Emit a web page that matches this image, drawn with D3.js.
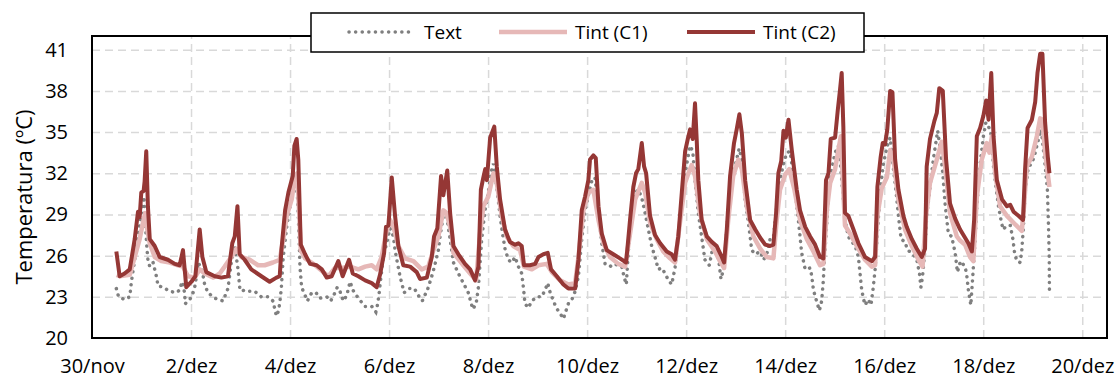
<!DOCTYPE html>
<html>
<head>
<meta charset="utf-8">
<script src="https://cdn.jsdelivr.net/npm/d3@7"></script>
<style>
  body { margin: 0; background: #fff; }
  svg { display: block; font-family: "Open Sans", sans-serif; }
</style>
</head>
<body>
<div id="chart"></div>
<script>
// x values are hours counted from 30/nov 00:00
const xTickHours = [0, 48, 96, 144, 192, 240, 288, 336, 384, 432, 480];
const xTickLabels = ["30/nov", "2/dez", "4/dez", "6/dez", "8/dez", "10/dez",
                     "12/dez", "14/dez", "16/dez", "18/dez", "20/dez"];
const yTicks = [20, 23, 26, 29, 32, 35, 38, 41];

const seriesNames = ["Text", "Tint (C1)", "Tint (C2)"];

// Text (outdoor)
const textSeries = [
  [11.8,23.6],[12.9,23.0],[15.8,22.8],[18.3,23.0],[19.1,24.1],[20.7,25.7],[22.3,27.4],[23.9,29.1],
  [25.2,30.3],[25.8,28.4],[26.7,26.4],[27.1,25.7],[28,25.2],[29.6,25.5],[31.2,24.5],[32,23.8],
  [34.4,23.7],[37.7,23.4],[40.9,23.3],[42.5,23.5],[43.6,24.1],[44.9,23.3],[45.2,22.5],[47.4,22.8],
  [49,23.3],[50.1,23.9],[51.4,25.5],[53.3,25.0],[54.6,23.9],[56.2,23.3],[59.5,22.9],[63.5,22.7],
  [65.9,23.6],[67.5,25.5],[69.2,26.7],[70.8,25.0],[71.6,23.7],[72.4,23.4],[74,23.5],[76.4,23.4],
  [78.9,23.4],[82.1,23.0],[85.3,23.0],[87.7,22.7],[89.4,21.6],[90.2,21.9],[91,22.5],[91.8,23.7],
  [92.7,25.9],[94.4,28.1],[96,29.6],[98.4,32.0],[99.7,30.1],[100.4,27.2],[100.8,25.2],[101.6,23.7],
  [103.3,23.1],[104.4,22.7],[106.5,23.3],[108.6,23.3],[110.5,22.9],[113.8,23.0],[115.7,22.7],[117.8,23.3],
  [118.9,23.7],[120.2,23.4],[121.8,22.7],[123.5,23.1],[125.1,24.1],[126.4,23.5],[129.1,22.9],[132.4,22.3],
  [135.6,22.3],[137.6,21.9],[138.5,22.5],[139.3,23.4],[140.1,24.5],[141.2,25.9],[142.8,26.9],[144.5,28.0],
  [146.1,27.4],[146.9,26.4],[148,25.5],[149.3,24.5],[151.3,23.3],[153.8,23.6],[156.3,23.6],[158.2,23.1],
  [160.1,22.7],[162.8,23.6],[164.7,24.5],[166,25.2],[167.9,26.4],[168.7,27.4],[170.3,28.9],[171.9,28.9],
  [173.6,27.2],[175.2,25.5],[177.6,24.7],[180,24.0],[182.4,23.3],[184.6,22.1],[186.2,22.5],[187.3,23.7],
  [188.9,27.2],[190.5,29.3],[192.1,30.6],[193.3,32.0],[194.6,32.7],[196.2,31.0],[197.8,28.9],[199.1,27.5],
  [200.2,26.5],[201.8,25.7],[203.5,25.5],[205.1,25.9],[206.7,25.2],[208.3,24.7],[209.1,23.7],[209.9,22.5],
  [211.5,22.2],[213.2,22.7],[215.6,23.0],[218,23.0],[219.6,23.5],[220.9,24.0],[222.1,23.3],[223.7,22.7],
  [225,22.2],[226.9,21.8],[228.5,21.4],[229.8,22.0],[230.9,22.5],[232.6,22.8],[234.2,23.4],[235.8,24.5],
  [237.4,27.2],[239,29.3],[240.6,30.4],[242.2,31.4],[243.8,31.7],[245.5,29.3],[247.1,26.9],[248.7,25.4],
  [251.1,25.2],[252.7,25.4],[255.1,25.3],[256.8,25.2],[258,24.4],[259,23.9],[260,26.4],[261.7,29.1],
  [263.3,30.6],[264.9,30.8],[266.5,30.2],[268.1,29.1],[269.7,27.9],[271.3,26.7],[272.9,25.9],[274.5,25.0],
  [276.2,25.1],[277.8,24.7],[279.4,24.2],[281,23.9],[282.6,25.1],[284.2,27.4],[285.9,30.1],[287.5,32.0],
  [288.8,33.1],[289.9,34.0],[291.2,33.6],[292.3,31.5],[293.9,29.1],[295.5,27.4],[297.1,25.7],[299.2,25.3],
  [301.1,26.7],[302.8,26.4],[304,25.4],[304.9,24.3],[306.4,25.2],[307.7,27.9],[309.3,30.8],[311.7,32.5],
  [313.7,33.8],[315,33.0],[316.6,30.1],[318.2,28.4],[319.8,26.4],[321.5,26.1],[323.9,26.3],[325.5,25.7],
  [327.1,26.1],[328.7,27.2],[330.3,27.3],[331.9,29.6],[333.5,31.5],[335.2,32.7],[336.8,33.5],[338.4,33.6],
  [340,31.8],[340.8,30.8],[342.4,28.6],[343.2,27.4],[344,26.2],[345.7,25.0],[348.1,25.1],[348.9,24.5],
  [349.7,23.5],[351,22.8],[352.6,22.0],[353.7,22.7],[354.5,24.2],[355,25.7],[356.2,28.4],[357,30.6],
  [358.6,32.3],[360.2,33.5],[361.8,34.0],[362.6,33.0],[363.9,30.6],[365,28.6],[366.6,27.4],[368.2,27.0],
  [369.8,26.8],[371.5,25.9],[372.3,24.7],[373.1,23.5],[373.9,22.9],[374.7,22.4],[376.3,22.8],[377.6,22.4],
  [378.7,23.7],[379.6,25.0],[380.7,27.6],[382,30.6],[383.6,32.7],[385.5,34.0],[386.9,34.6],[388.5,32.3],
  [389.8,30.6],[390.9,28.9],[392.2,27.2],[394.1,27.0],[395.3,26.4],[397.4,26.2],[399.8,25.7],[401.1,24.7],
  [401.8,23.7],[402.6,24.5],[403.6,26.2],[404.6,28.9],[406.2,31.0],[407.8,33.0],[409,34.2],[409.9,35.1],
  [411,34.0],[412.4,32.0],[413.5,29.8],[415.1,27.6],[416.7,27.4],[418.4,26.2],[419.5,24.8],[421,25.6],
  [423.2,25.2],[424,24.6],[424.8,23.5],[426,22.4],[426.8,24.2],[427.7,26.2],[428.9,29.6],[430.5,32.7],
  [432.1,34.7],[433.3,35.7],[434.6,35.4],[435.7,34.9],[437,32.5],[438.2,31.0],[439.4,29.6],[440.6,28.6],
  [441.6,27.9],[443.5,28.2],[445.1,28.2],[446.4,27.2],[447.2,26.2],[448.3,25.6],[449.9,25.5],[450.7,26.4],
  [451.5,28.1],[452.3,30.6],[453.9,32.5],[455.6,32.7],[457.2,33.5],[458.8,34.5],[460.1,35.2],[461.2,33.7],
  [462.4,32.0],[463.1,30.8],[463.6,28.4],[464,25.9],[464.1,23.4]
];

// Tint (C1)
const tintC1 = [
  [12,24.6],[13.4,24.5],[18.3,24.6],[20.7,25.9],[23.1,27.2],[24.7,28.4],[25.8,29.1],[26.8,27.9],
  [28,26.9],[30.4,25.9],[33.6,25.6],[37.7,25.5],[41.7,25.3],[44.1,25.2],[46.5,24.5],[49.8,24.4],
  [52.2,25.0],[54.6,24.7],[58.7,24.4],[61.9,24.7],[64.3,25.2],[67.5,25.9],[70,26.5],[72.4,25.9],
  [76.4,25.7],[80.5,25.3],[83.7,25.3],[87.7,25.5],[91,25.7],[92.5,27.0],[94.4,28.9],[96.8,30.1],
  [98.4,31.8],[99.5,32.0],[100.3,29.5],[101.2,26.4],[103.3,25.8],[107.3,25.4],[112.1,24.8],[114.6,24.5],
  [117.8,25.1],[121,25.1],[125.1,25.2],[129.1,25.0],[132.4,25.2],[135.6,25.3],[138,25.0],[140.4,25.9],
  [142.5,27.6],[144.5,28.6],[146.1,28.1],[148.5,26.7],[151.7,25.8],[155.8,25.6],[159.8,25.0],[163,25.2],
  [165.5,26.4],[167.9,27.4],[170.3,29.3],[171.9,29.1],[174.4,27.6],[175.2,26.2],[180,25.3],[183.3,24.7],
  [186.2,24.2],[188.1,27.6],[189.7,29.6],[192.1,30.3],[194.6,32.0],[196.2,31.3],[198.6,28.9],[201,27.4],
  [204.2,26.7],[207.5,26.4],[209.4,25.2],[213.2,25.0],[216.4,25.3],[220.4,25.4],[222.9,24.8],[226.9,24.2],
  [230.9,23.9],[234.2,24.0],[235.8,25.9],[238.2,29.3],[240.6,30.6],[243,30.8],[245.5,28.6],[247.9,26.9],
  [251.1,25.9],[255.1,25.4],[258.4,25.2],[260.8,27.6],[263.3,30.1],[266.5,31.3],[268.1,30.6],[270.5,28.4],
  [273.7,27.2],[276.9,26.3],[280.2,25.8],[282.6,25.5],[285,28.4],[287.5,31.3],[289.1,32.0],[290.7,32.6],
  [292.3,31.8],[294.7,29.1],[298,27.2],[302,26.3],[304.4,25.6],[306.4,25.1],[308.4,28.6],[310.8,31.8],
  [313.3,33.0],[315,32.3],[317.4,29.6],[320.6,27.4],[323.9,26.5],[327.1,25.9],[330.3,25.8],[331.9,28.6],
  [333.5,30.8],[336,31.9],[338,32.3],[340.5,30.8],[343.2,28.6],[346.5,27.2],[349.7,26.3],[352.9,25.3],
  [354.5,25.4],[356.2,29.3],[357.8,31.3],[360.2,32.3],[361.8,33.7],[363,34.7],[364.2,30.6],[365,28.2],
  [367.5,27.6],[370.7,26.7],[374.7,25.7],[378,25.2],[379.6,25.3],[380.7,28.9],[382.8,30.9],[385.3,31.7],
  [386.9,33.7],[388.5,33.0],[390.9,30.1],[394.1,27.9],[397.4,26.7],[400.6,25.7],[402.6,25.2],[404.3,28.9],
  [406.2,31.3],[409.5,33.0],[411.9,34.3],[413.5,32.5],[415.9,29.1],[419.2,27.4],[420.8,27.1],[423.2,26.8],
  [425.6,25.9],[427.2,25.6],[428.9,30.3],[431.3,33.0],[433.7,34.2],[435,33.5],[436.2,34.7],[437.8,32.0],
  [440.2,29.6],[443.5,28.9],[446.7,28.4],[450.7,27.8],[451.8,29.6],[453.1,32.5],[455.6,33.2],[458,34.7],
  [459.6,36.0],[460.7,35.9],[462,33.5],[464.1,31.0]
];

// Tint (C2)
const tintC2 = [
  [11.8,26.3],[13.4,24.5],[15.8,24.7],[18.3,25.0],[20.7,27.2],[22.3,29.2],[23.1,28.8],[23.9,30.6],
  [25,30.7],[25.5,31.4],[26.3,33.6],[27.1,29.6],[28,27.2],[30.4,26.7],[32.8,25.9],[36.8,25.7],
  [40.1,25.4],[42.5,25.3],[44.1,26.4],[45.7,23.7],[48.2,24.1],[50.1,24.5],[52.2,27.9],[53.5,25.9],
  [55.4,24.8],[59.5,24.5],[62.7,24.4],[65.9,24.5],[68,26.9],[69.2,27.4],[70.5,29.6],[71.6,26.1],
  [74,25.7],[77.2,25.0],[82.1,24.5],[86.1,24.1],[89.4,24.4],[91,24.5],[91.8,26.4],[93.6,29.3],
  [95.2,30.6],[97.3,31.8],[98.1,34.0],[99.2,34.5],[100,33.0],[101.2,26.8],[103.3,26.1],[105.7,25.4],
  [108.9,25.3],[111.4,25.0],[113.8,24.4],[116.2,24.5],[119.4,25.6],[121.5,24.5],[124.6,25.7],[126.4,24.7],
  [129.1,24.5],[132.4,24.2],[135.6,24.0],[138,23.7],[139.6,24.6],[141.6,26.2],[142.5,28.1],[143.7,28.2],
  [145.3,31.7],[146.9,28.9],[148.5,26.7],[150.9,25.3],[154.2,25.2],[157.4,24.8],[159,24.3],[162.3,24.4],
  [164.7,25.9],[165.8,27.4],[167.4,28.0],[169.2,31.8],[170.3,30.4],[172.2,32.2],[173.6,29.1],[175.2,26.7],
  [177.6,26.1],[180.8,25.4],[183.3,25.0],[185.7,24.2],[187.3,25.2],[188.5,30.8],[189.7,31.7],[190.6,32.3],
  [191.4,31.5],[193,34.6],[195,35.4],[196.2,32.5],[197.8,30.1],[200.2,27.9],[202.6,27.0],[205.1,26.8],
  [206.7,26.9],[208.3,26.7],[209.4,25.3],[212.3,25.3],[214.8,25.4],[216.4,25.9],[218.8,26.1],[220.9,26.2],
  [222.5,25.0],[225.3,24.5],[228.5,23.9],[230.9,23.6],[234.2,23.6],[235.8,25.7],[237.4,29.3],[239,30.3],
  [240.6,31.5],[241.4,33.0],[243,33.3],[244.2,33.1],[245.5,29.6],[247.1,27.6],[249.5,26.4],[252.7,26.1],
  [255.9,25.8],[258.9,25.5],[260.8,28.6],[262.4,31.0],[263.7,32.0],[264.8,32.3],[266.5,34.2],[267.6,32.5],
  [268.6,32.0],[270.5,28.9],[272.9,27.5],[275.4,26.9],[278.6,26.3],[281,26.1],[282.6,25.7],[284.2,27.4],
  [285.9,30.6],[287.5,33.6],[288.8,34.5],[289.9,35.2],[291.2,34.5],[292.3,37.1],[293.1,34.5],[293.9,31.5],
  [295.5,28.6],[298,27.4],[300.4,27.0],[302.8,26.7],[305.3,25.9],[306.4,25.5],[307.7,27.9],[309.3,31.8],
  [311.2,34.2],[312.5,35.2],[313.8,36.3],[315,34.9],[316.6,31.5],[319,28.6],[321.5,27.9],[323.9,27.3],
  [326.3,26.8],[328.7,26.7],[330.3,26.8],[331.6,29.1],[332.7,32.0],[334.1,32.9],[335.2,35.1],[336.3,34.6],
  [337.6,35.9],[339.2,33.7],[341.6,30.8],[343.2,29.3],[345.7,28.1],[348.1,27.4],[350.5,26.8],[352.9,25.9],
  [354.5,25.8],[355.8,31.5],[357,32.0],[358.1,34.5],[360.2,34.6],[361.5,36.6],[362.6,38.1],[363.4,39.3],
  [364.2,35.4],[365,29.1],[366.6,28.9],[369.1,27.9],[371.5,26.9],[374.7,25.9],[378,25.6],[379.6,25.9],
  [380.7,31.0],[382.3,33.2],[383.3,34.2],[384.4,34.1],[385.5,35.2],[386.9,38.0],[388,37.9],[389.3,33.0],
  [390.9,30.8],[393.3,28.9],[394.9,28.1],[397.4,27.2],[399.8,26.5],[402.2,25.9],[403.8,26.5],[404.6,32.5],
  [406.2,34.5],[408.3,35.8],[409.5,36.4],[410.7,38.2],[412.4,38.0],[414,33.0],[415.9,29.8],[418.4,28.7],
  [420.8,27.9],[423.2,27.3],[424.8,26.9],[426.5,26.3],[427.6,28.6],[428.9,34.7],[430.5,35.3],[432.1,36.2],
  [433.4,37.3],[434.6,35.9],[435.9,39.3],[437,34.7],[438.6,31.5],[441.1,30.1],[443.5,29.6],[445.1,29.7],
  [446.7,29.2],[449.1,28.9],[451.3,28.6],[452.3,32.3],[453.5,35.3],[455.6,35.9],[457.2,37.2],[458.3,39.3],
  [459.6,40.7],[460.7,40.7],[462,35.7],[463.3,33.2],[464.1,32.0]
];

const W = 1118, H = 379;
const margin = {left: 92, right: 11, top: 36, bottom: 41};
const innerW = W - margin.left - margin.right;
const innerH = H - margin.top - margin.bottom;

const colText = "#7f7f7f", colC1 = "#e6b8b7", colC2 = "#953735";

const svg = d3.select("#chart").append("svg")
  .attr("width", W)
  .attr("height", H);

svg.append("rect").attr("width", W).attr("height", H).attr("fill", "#fff");

const x = d3.scaleLinear().domain([0, 492]).range([margin.left, margin.left + innerW]);
const y = d3.scaleLinear().domain([20, 42]).range([margin.top + innerH, margin.top]);

// gridlines
svg.append("g")
  .attr("transform", `translate(${margin.left},0)`)
  .call(d3.axisLeft(y).tickValues(yTicks.slice(1)).tickSize(-innerW).tickFormat(""))
  .call(g => g.select(".domain").remove())
  .selectAll("line")
    .attr("stroke", "#d9d9d9")
    .attr("stroke-width", 1.5)
    .attr("stroke-dasharray", "8,5");

svg.append("g")
  .attr("transform", `translate(0,${margin.top + innerH})`)
  .call(d3.axisBottom(x).tickValues(xTickHours.slice(1)).tickSize(-innerH).tickFormat(""))
  .call(g => g.select(".domain").remove())
  .selectAll("line")
    .attr("stroke", "#d9d9d9")
    .attr("stroke-width", 1.5)
    .attr("stroke-dasharray", "8,5");

// axis labels
svg.append("g")
  .attr("transform", `translate(${margin.left},0)`)
  .call(d3.axisLeft(y).tickValues(yTicks).tickSize(0).tickPadding(24))
  .call(g => g.select(".domain").remove())
  .selectAll("text")
    .attr("font-family", "'Open Sans', sans-serif")
    .attr("font-size", 20)
    .attr("fill", "#000");

svg.append("g")
  .attr("transform", `translate(0,${margin.top + innerH})`)
  .call(d3.axisBottom(x).tickValues(xTickHours)
    .tickFormat((d, i) => xTickLabels[i]).tickSize(0).tickPadding(21))
  .call(g => g.select(".domain").remove())
  .selectAll("text")
    .attr("font-family", "'Open Sans', sans-serif")
    .attr("font-size", 20)
    .attr("fill", "#000");

svg.append("text")
  .attr("transform", "translate(23,197) rotate(-90)")
  .attr("text-anchor", "middle")
  .attr("dominant-baseline", "central")
  .attr("font-size", 22)
  .text("Temperatura (ºC)");

// series
const line = d3.line().x(d => x(d[0])).y(d => y(d[1]));

svg.append("path")
  .datum(textSeries)
  .attr("d", line)
  .attr("fill", "none")
  .attr("stroke", colText)
  .attr("stroke-width", 3.5)
  .attr("stroke-linecap", "round")
  .attr("stroke-dasharray", "0.1,6.5");

svg.append("path")
  .datum(tintC1)
  .attr("d", line)
  .attr("fill", "none")
  .attr("stroke", colC1)
  .attr("stroke-width", 4.5)
  .attr("stroke-linejoin", "round");

svg.append("path")
  .datum(tintC2)
  .attr("d", line)
  .attr("fill", "none")
  .attr("stroke", colC2)
  .attr("stroke-width", 4)
  .attr("stroke-linejoin", "round");

// plot frame
svg.append("rect")
  .attr("x", margin.left)
  .attr("y", margin.top)
  .attr("width", innerW)
  .attr("height", innerH)
  .attr("fill", "none")
  .attr("stroke", "#000")
  .attr("stroke-width", 2);

// legend
const legend = svg.append("g");
legend.append("rect")
  .attr("x", 311).attr("y", 13)
  .attr("width", 553).attr("height", 39)
  .attr("fill", "#fff")
  .attr("stroke", "#000")
  .attr("stroke-width", 1.5);

const legendItems = [
  {name: seriesNames[0], x0: 349, x1: 413, color: colText, width: 3.5, dash: "0.1,6.5", tx: 424},
  {name: seriesNames[1], x0: 499, x1: 567, color: colC1, width: 4.5, dash: null, tx: 575},
  {name: seriesNames[2], x0: 687, x1: 755, color: colC2, width: 4, dash: null, tx: 763}
];

legendItems.forEach(it => {
  legend.append("line")
    .attr("x1", it.x0).attr("x2", it.x1)
    .attr("y1", 32).attr("y2", 32)
    .attr("stroke", it.color)
    .attr("stroke-width", it.width)
    .attr("stroke-linecap", it.dash ? "round" : "butt")
    .attr("stroke-dasharray", it.dash);
  legend.append("text")
    .attr("x", it.tx).attr("y", 32)
    .attr("dominant-baseline", "central")
    .attr("font-size", 19)
    .text(it.name);
});
</script>
</body>
</html>
